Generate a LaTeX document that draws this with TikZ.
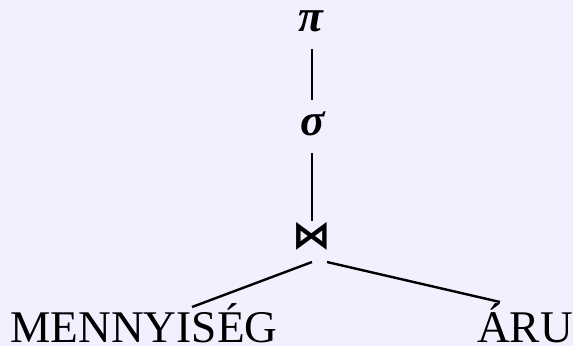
\documentclass[tikz,border=0pt]{standalone}
\usepackage{fontspec}
\setmainfont{Liberation Serif}
\newfontfamily\opfont{DejaVu Sans}
\definecolor{bgcol}{RGB}{240,240,255}

\tikzset{every picture/.style={line width=1.8pt}}
\tikzset{
  opnode/.style={anchor=base, inner sep=0pt, text height=14pt, text depth=0pt, font=\fontsize{34}{40}\selectfont\bfseries\itshape},
  joinnode/.style={anchor=base, inner sep=0pt, font=\fontsize{29}{32}\selectfont\opfont\bfseries},
  relnode/.style={anchor=base, inner sep=0pt, text depth=0pt, font=\fontsize{34}{40}\selectfont}
}

\begin{document}
\begin{tikzpicture}[x=0.75pt,y=0.75pt,yscale=-1,xscale=1]
\fill[bgcol] (0,0) rectangle (573,346);
\useasboundingbox (0,0) rectangle (573,346);

% Text Node
\node[opnode] (proj) at (311,32) {π};
% Text Node
\node[opnode] (sel) at (313,135) {σ};
% Text Node
\node[joinnode] (join) at (312,248) {⋈};
% Text Node
\node[relnode] (menny) at (144,342) {MENNYISÉG};
% Text Node
\node[relnode] (aru) at (525,342) {ÁRU};

%Straight Lines
\draw ([shift={(1,17)}]proj.base) -- ([shift={(-1,-35)}]sel.base);
%Straight Lines
\draw ([shift={(-1,18)}]sel.base) -- ([shift={(0,-27)}]join.base);
%Straight Lines
\draw ([shift={(0,14)}]join.base) -- ([shift={(48,-35)}]menny.base);
%Straight Lines
\draw ([shift={(15,14)}]join.base) -- ([shift={(-25,-40)}]aru.base);

\end{tikzpicture}
\end{document}
